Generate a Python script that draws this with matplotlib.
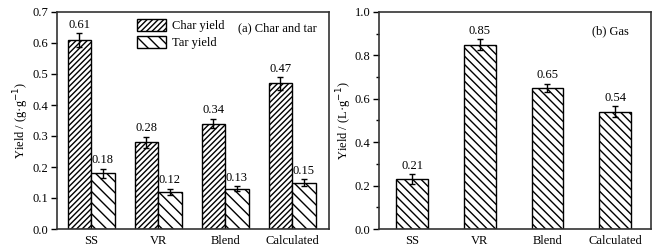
import matplotlib
matplotlib.use("Agg")
import matplotlib.pyplot as plt
from matplotlib.ticker import MultipleLocator
import numpy as np

plt.rcParams['font.family'] = ['Liberation Serif', 'DejaVu Serif']
plt.rcParams['hatch.linewidth'] = 1.0

categories = ["SS", "VR", "Blend", "Calculated"]
char_yield = [0.61, 0.28, 0.34, 0.47]
char_err = [0.022, 0.018, 0.015, 0.02]
tar_yield = [0.18, 0.12, 0.13, 0.15]
tar_err = [0.014, 0.01, 0.008, 0.01]
gas_yield = [0.23, 0.85, 0.65, 0.54]
gas_err = [0.022, 0.025, 0.02, 0.025]
gas_labels = ["0.21", "0.85", "0.65", "0.54"]

fig = plt.figure(figsize=(6.65, 2.5), dpi=100)
ax1 = fig.add_axes([57/665, 21/250, 272/665, 217/250])
ax2 = fig.add_axes([379/665, 21/250, 272/665, 217/250])

x = np.arange(len(categories))
w = 0.35
ekw = dict(elinewidth=1.0, capthick=1.0)

# panel (a): char and tar
ax1.bar(x - w/2, char_yield, w, yerr=char_err, capsize=2.5, color='white',
        edgecolor='black', linewidth=1.0, hatch='//////', label='Char yield', error_kw=ekw)
ax1.bar(x + w/2, tar_yield, w, yerr=tar_err, capsize=2.5, color='white',
        edgecolor='black', linewidth=1.0, hatch='\\\\\\', label='Tar yield', error_kw=ekw)
for i in range(len(categories)):
    ax1.text(x[i] - w/2, char_yield[i] + char_err[i] + 0.008, f"{char_yield[i]:.2f}",
             ha='center', va='bottom', fontsize=9)
    ax1.text(x[i] + w/2, tar_yield[i] + tar_err[i] + 0.008, f"{tar_yield[i]:.2f}",
             ha='center', va='bottom', fontsize=9)
ax1.set_xlim(-0.51, 3.55)
ax1.set_ylim(0, 0.7)
ax1.yaxis.set_major_locator(MultipleLocator(0.1))
ax1.yaxis.set_major_formatter(plt.FuncFormatter(lambda v, p: f"{v:.1f}"))
ax1.set_ylabel("Yield / (g·g$^{-1}$)", fontsize=9, labelpad=1)
ax1.legend(loc='upper left', bbox_to_anchor=(0.294, 0.97), frameon=False, fontsize=9,
           handlelength=2.3, handleheight=1.15, labelspacing=0.3, handletextpad=0.5,
           borderaxespad=0, borderpad=0)
ax1.text(0.956, 0.925, "(a) Char and tar", transform=ax1.transAxes, ha='right', va='center', fontsize=9)

# panel (b): gas
ax2.bar(x, gas_yield, 0.47, yerr=gas_err, capsize=2.5, color='white',
        edgecolor='black', linewidth=1.0, hatch='\\\\\\\\', error_kw=ekw)
for i in range(len(categories)):
    ax2.text(x[i], gas_yield[i] + gas_err[i] + 0.01, gas_labels[i],
             ha='center', va='bottom', fontsize=9)
ax2.set_xlim(-0.49, 3.53)
ax2.set_ylim(0, 1.0)
ax2.yaxis.set_major_locator(MultipleLocator(0.2))
ax2.yaxis.set_minor_locator(MultipleLocator(0.1))
ax2.yaxis.set_major_formatter(plt.FuncFormatter(lambda v, p: f"{v:.1f}"))
ax2.set_ylabel("Yield / (L·g$^{-1}$)", fontsize=9, labelpad=1)
ax2.text(0.92, 0.91, "(b) Gas", transform=ax2.transAxes, ha='right', va='center', fontsize=9)

for ax in (ax1, ax2):
    ax.set_xticks(x)
    ax.set_xticklabels(categories, fontsize=9)
    ax.tick_params(axis='x', length=0, pad=4)
    ax.tick_params(axis='y', which='major', direction='out', length=4, width=1, labelsize=9, pad=2)
    ax.tick_params(axis='y', which='minor', direction='out', length=2, width=1)
    for s in ax.spines.values():
        s.set_linewidth(1.2)
        s.set_color('#333333')

fig.savefig("out.png", dpi=100)
